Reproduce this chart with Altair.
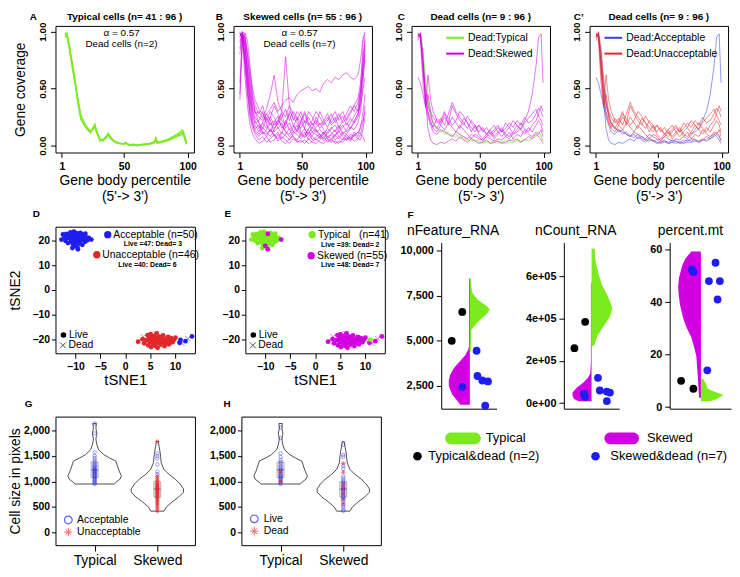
import altair as alt
import pandas as pd

FONT = "Liberation Sans"
GREEN = "#7CEB1E"
MAGENTA = "#D000E0"
BLUE = "#1E1EF0"
RED = "#E0282A"
XSHAPE = "M-1,-1L1,1M-1,1L1,-1"
STAR = "M0,-1L0,1M-1,0L1,0M-0.7,-0.7L0.7,0.7M-0.7,0.7L0.7,-0.7"

# ---------------- Panel A: typical cells, gene-body coverage ----------------
pct_typical = [3.5, 5, 7, 9, 11, 13.5, 16, 18.5, 21, 23.5, 25.5, 27, 28.5, 31, 33.5, 35.5, 37.5, 40,
               42.5, 46, 50, 51, 54, 57.5, 60, 65, 70, 74, 75, 76, 80, 85, 90, 94, 96, 97.5, 99]
typ_1 = [0.98, 0.97, 0.86, 0.72, 0.59, 0.40, 0.25, 0.19, 0.15, 0.13, 0.15, 0.18, 0.12, 0.05, 0.05, 0.07, 0.10, 0.06,
         0.035, 0.02, 0.015, 0.026, 0.006, 0.01, 0.0, 0.01, 0.015, 0.03, 0.063, 0.026, 0.035, 0.05, 0.08, 0.10, 0.12, 0.08, 0.01]
typ_2 = [0.95, 0.99, 0.88, 0.70, 0.57, 0.42, 0.27, 0.20, 0.16, 0.12, 0.14, 0.17, 0.11, 0.06, 0.04, 0.08, 0.09, 0.05,
         0.04, 0.025, 0.012, 0.022, 0.01, 0.008, 0.005, 0.012, 0.02, 0.035, 0.055, 0.03, 0.04, 0.06, 0.09, 0.12, 0.14, 0.10, 0.03]
typ_3 = [0.96, 0.96, 0.84, 0.74, 0.60, 0.38, 0.23, 0.18, 0.14, 0.11, 0.16, 0.16, 0.13, 0.04, 0.06, 0.06, 0.11, 0.07,
         0.03, 0.018, 0.018, 0.03, 0.004, 0.012, 0.002, 0.008, 0.012, 0.025, 0.07, 0.02, 0.03, 0.045, 0.07, 0.09, 0.10, 0.07, 0.02]
typ_4 = [0.97, 0.98, 0.85, 0.71, 0.58, 0.41, 0.26, 0.21, 0.15, 0.13, 0.15, 0.19, 0.12, 0.05, 0.05, 0.07, 0.10, 0.06,
         0.04, 0.02, 0.015, 0.024, 0.008, 0.01, 0.004, 0.01, 0.018, 0.03, 0.06, 0.028, 0.038, 0.055, 0.085, 0.11, 0.13, 0.09, 0.02]
typ_5 = [0.99, 0.97, 0.87, 0.73, 0.60, 0.39, 0.24, 0.19, 0.15, 0.12, 0.15, 0.18, 0.12, 0.05, 0.05, 0.07, 0.10, 0.06,
         0.035, 0.02, 0.014, 0.025, 0.007, 0.01, 0.002, 0.01, 0.016, 0.032, 0.065, 0.027, 0.04, 0.05, 0.075, 0.095, 0.11, 0.075, 0.015]
cov_typical = [typ_1, typ_2, typ_3, typ_4, typ_5]

# ---------------- Panel B: skewed cells ----------------
pct_grid = [1, 3, 5, 7, 9, 11, 13, 16, 19, 22, 25, 28, 31, 34, 37, 40, 43, 46, 49, 52, 55, 58, 61, 64, 67,
            70, 73, 76, 79, 82, 85, 88, 91, 94, 96, 98, 99.5]
skw_1 = [0.45, 0.97, 0.95, 0.80, 0.55, 0.40, 0.30, 0.25, 0.22, 0.28, 0.32, 0.38, 0.30, 0.35, 0.40, 0.42, 0.38, 0.45, 0.48, 0.50,
         0.52, 0.48, 0.50, 0.47, 0.55, 0.58, 0.55, 0.60, 0.58, 0.62, 0.64, 0.60, 0.58, 0.62, 0.75, 0.95, 0.98]
skw_2 = [0.95, 1.00, 0.92, 0.65, 0.40, 0.25, 0.18, 0.12, 0.20, 0.15, 0.25, 0.18, 0.22, 0.28, 0.15, 0.20, 0.12, 0.18, 0.10, 0.15,
         0.08, 0.12, 0.10, 0.06, 0.12, 0.08, 0.10, 0.05, 0.08, 0.12, 0.10, 0.15, 0.20, 0.25, 0.40, 0.70, 0.95]
skw_3 = [0.98, 0.96, 0.75, 0.50, 0.30, 0.20, 0.10, 0.05, 0.08, 0.03, 0.06, 0.10, 0.04, 0.08, 0.05, 0.02, 0.06, 0.04, 0.03, 0.05,
         0.02, 0.04, 0.06, 0.03, 0.02, 0.05, 0.03, 0.04, 0.02, 0.06, 0.05, 0.08, 0.04, 0.06, 0.10, 0.08, 0.03]
skw_4 = [0.90, 0.98, 0.85, 0.70, 0.52, 0.35, 0.28, 0.30, 0.24, 0.32, 0.45, 0.62, 0.38, 0.30, 0.78, 0.35, 0.28, 0.22, 0.30, 0.20,
         0.25, 0.18, 0.22, 0.15, 0.20, 0.25, 0.18, 0.22, 0.28, 0.20, 0.24, 0.30, 0.35, 0.42, 0.55, 0.80, 0.88]
skw_5 = [1.00, 0.95, 0.70, 0.45, 0.25, 0.15, 0.12, 0.08, 0.12, 0.10, 0.15, 0.08, 0.12, 0.06, 0.10, 0.15, 0.08, 0.05, 0.10, 0.07,
         0.12, 0.05, 0.08, 0.10, 0.04, 0.08, 0.06, 0.10, 0.12, 0.08, 0.05, 0.10, 0.08, 0.12, 0.15, 0.30, 0.45]
skw_6 = [0.80, 1.00, 0.98, 0.75, 0.60, 0.45, 0.35, 0.28, 0.35, 0.22, 0.30, 0.25, 0.18, 0.25, 0.32, 0.22, 0.30, 0.25, 0.20, 0.28,
         0.18, 0.22, 0.30, 0.25, 0.18, 0.22, 0.28, 0.20, 0.25, 0.30, 0.22, 0.28, 0.35, 0.30, 0.45, 0.62, 0.75]
skw_7 = [0.98, 0.92, 0.60, 0.35, 0.18, 0.10, 0.06, 0.02, 0.04, 0.08, 0.03, 0.05, 0.10, 0.04, 0.02, 0.06, 0.08, 0.03, 0.05, 0.02,
         0.06, 0.03, 0.02, 0.05, 0.08, 0.03, 0.06, 0.02, 0.04, 0.03, 0.07, 0.04, 0.10, 0.06, 0.05, 0.15, 0.25]
skw_8 = [0.55, 0.98, 0.95, 0.82, 0.65, 0.50, 0.40, 0.32, 0.28, 0.20, 0.25, 0.35, 0.28, 0.22, 0.18, 0.30, 0.25, 0.20, 0.15, 0.22,
         0.18, 0.12, 0.16, 0.20, 0.14, 0.10, 0.15, 0.18, 0.12, 0.16, 0.20, 0.15, 0.22, 0.28, 0.35, 0.50, 0.60]
skw_9 = [0.96, 0.99, 0.80, 0.55, 0.35, 0.22, 0.15, 0.18, 0.10, 0.14, 0.20, 0.12, 0.16, 0.10, 0.22, 0.14, 0.18, 0.12, 0.20, 0.15,
         0.10, 0.16, 0.12, 0.14, 0.10, 0.15, 0.12, 0.08, 0.14, 0.18, 0.12, 0.16, 0.14, 0.20, 0.30, 0.55, 0.85]
skw_10 = [0.92, 0.97, 0.90, 0.60, 0.45, 0.30, 0.25, 0.20, 0.15, 0.25, 0.18, 0.22, 0.15, 0.20, 0.12, 0.10, 0.16, 0.25, 0.12, 0.08,
          0.15, 0.20, 0.14, 0.10, 0.06, 0.12, 0.16, 0.12, 0.18, 0.10, 0.14, 0.20, 0.26, 0.32, 0.50, 0.90, 1.00]
skw_11 = [0.99, 0.94, 0.72, 0.48, 0.28, 0.18, 0.14, 0.10, 0.16, 0.12, 0.08, 0.14, 0.22, 0.18, 0.12, 0.08, 0.12, 0.10, 0.06, 0.10,
          0.14, 0.08, 0.05, 0.08, 0.12, 0.06, 0.10, 0.14, 0.08, 0.05, 0.10, 0.06, 0.12, 0.08, 0.18, 0.22, 0.30]
skw_12 = [0.85, 0.99, 0.88, 0.66, 0.48, 0.32, 0.22, 0.15, 0.20, 0.28, 0.22, 0.15, 0.20, 0.30, 0.25, 0.35, 0.22, 0.30, 0.25, 0.15,
          0.30, 0.25, 0.18, 0.30, 0.22, 0.28, 0.20, 0.25, 0.15, 0.22, 0.28, 0.35, 0.30, 0.38, 0.48, 0.68, 0.80]
skw_13 = [0.40, 0.90, 0.99, 0.92, 0.70, 0.42, 0.30, 0.20, 0.12, 0.08, 0.14, 0.10, 0.06, 0.12, 0.09, 0.05, 0.10, 0.14, 0.08, 0.12,
          0.05, 0.09, 0.14, 0.07, 0.10, 0.06, 0.04, 0.09, 0.06, 0.10, 0.08, 0.05, 0.09, 0.12, 0.10, 0.20, 0.35]
skw_14 = [0.97, 0.99, 0.78, 0.58, 0.40, 0.28, 0.20, 0.22, 0.30, 0.18, 0.12, 0.20, 0.26, 0.15, 0.20, 0.28, 0.18, 0.14, 0.22, 0.30,
          0.20, 0.15, 0.25, 0.18, 0.22, 0.16, 0.24, 0.30, 0.22, 0.26, 0.18, 0.24, 0.20, 0.28, 0.40, 0.72, 0.92]
cov_skewed = [skw_1, skw_2, skw_3, skw_4, skw_5, skw_6, skw_7, skw_8, skw_9, skw_10, skw_11, skw_12, skw_13, skw_14]

# ---------------- Panels C and C': dead cells ----------------
dead_1 = [0.98, 0.97, 0.80, 0.55, 0.38, 0.25, 0.20, 0.16, 0.12, 0.14, 0.10, 0.08, 0.10, 0.06, 0.08, 0.05, 0.04, 0.05, 0.03, 0.02,
          0.03, 0.02, 0.03, 0.02, 0.03, 0.02, 0.03, 0.03, 0.04, 0.03, 0.05, 0.04, 0.06, 0.08, 0.10, 0.08, 0.05]
dead_2 = [0.95, 1.00, 0.85, 0.60, 0.40, 0.28, 0.18, 0.15, 0.14, 0.10, 0.12, 0.09, 0.07, 0.10, 0.06, 0.05, 0.07, 0.04, 0.05, 0.03,
          0.04, 0.03, 0.05, 0.04, 0.03, 0.05, 0.04, 0.06, 0.05, 0.04, 0.06, 0.05, 0.08, 0.10, 0.12, 0.09, 0.04]
dead_3 = [0.60, 0.55, 0.45, 0.35, 0.25, 0.18, 0.12, 0.10, 0.14, 0.12, 0.10, 0.08, 0.12, 0.10, 0.08, 0.06, 0.10, 0.08, 0.06, 0.05,
          0.08, 0.06, 0.04, 0.06, 0.05, 0.08, 0.06, 0.10, 0.12, 0.15, 0.22, 0.30, 0.45, 0.70, 0.95, 0.98, 0.55]
dead_4 = [0.95, 0.98, 0.70, 0.40, 0.15, 0.05, 0.02, 0.01, 0.03, 0.02, 0.04, 0.06, 0.04, 0.08, 0.05, 0.03, 0.06, 0.04, 0.02, 0.03,
          0.05, 0.02, 0.03, 0.04, 0.02, 0.03, 0.05, 0.04, 0.06, 0.03, 0.05, 0.08, 0.06, 0.10, 0.08, 0.05, 0.02]
dead_5 = [0.98, 0.95, 0.55, 0.35, 0.62, 0.40, 0.30, 0.22, 0.18, 0.25, 0.20, 0.35, 0.28, 0.22, 0.18, 0.26, 0.20, 0.15, 0.18, 0.12,
          0.16, 0.10, 0.14, 0.18, 0.12, 0.15, 0.20, 0.16, 0.22, 0.18, 0.25, 0.20, 0.22, 0.28, 0.33, 0.30, 0.25]
dead_6 = [0.92, 0.99, 0.80, 0.33, 0.45, 0.30, 0.25, 0.20, 0.24, 0.18, 0.28, 0.38, 0.30, 0.25, 0.20, 0.15, 0.22, 0.18, 0.12, 0.16,
          0.10, 0.14, 0.18, 0.12, 0.08, 0.12, 0.16, 0.10, 0.14, 0.20, 0.15, 0.12, 0.18, 0.22, 0.28, 0.35, 0.30]
dead_7 = [0.96, 0.97, 0.75, 0.50, 0.35, 0.28, 0.20, 0.15, 0.22, 0.30, 0.18, 0.25, 0.20, 0.15, 0.24, 0.20, 0.12, 0.18, 0.10, 0.06,
          0.10, 0.14, 0.08, 0.12, 0.16, 0.10, 0.08, 0.12, 0.18, 0.14, 0.10, 0.16, 0.12, 0.18, 0.22, 0.18, 0.12]
dead_8 = [0.99, 0.93, 0.65, 0.45, 0.30, 0.22, 0.15, 0.12, 0.18, 0.14, 0.20, 0.16, 0.12, 0.18, 0.14, 0.10, 0.06, 0.10, 0.08, 0.04,
          0.08, 0.12, 0.06, 0.10, 0.14, 0.08, 0.12, 0.06, 0.10, 0.08, 0.14, 0.10, 0.08, 0.12, 0.10, 0.14, 0.08]
dead_9 = [0.97, 0.98, 0.70, 0.42, 0.28, 0.20, 0.16, 0.24, 0.20, 0.28, 0.24, 0.18, 0.22, 0.30, 0.26, 0.20, 0.16, 0.12, 0.18, 0.14,
          0.10, 0.08, 0.12, 0.16, 0.12, 0.20, 0.16, 0.22, 0.18, 0.14, 0.20, 0.24, 0.28, 0.32, 0.26, 0.22, 0.18]
cov_dead = [dead_1, dead_2, dead_3, dead_4, dead_5, dead_6, dead_7, dead_8, dead_9]
dead_type = ["Dead:Typical", "Dead:Typical", "Dead:Skewed", "Dead:Skewed", "Dead:Skewed",
             "Dead:Skewed", "Dead:Skewed", "Dead:Skewed", "Dead:Skewed"]
dead_quality = ["Dead:Acceptable", "Dead:Unacceptable", "Dead:Acceptable", "Dead:Acceptable", "Dead:Unacceptable",
                "Dead:Unacceptable", "Dead:Unacceptable", "Dead:Unacceptable", "Dead:Unacceptable"]

# ---------------- Panels D and E: tSNE ----------------
top_x = [-12.8, -12.2, -12.0, -11.8, -11.6, -11.5, -11.3, -11.1, -11.0, -10.9, -10.8, -10.7, -10.6, -10.5, -10.4,
         -10.3, -10.2, -10.1, -9.9, -9.8, -9.7, -9.6, -9.4, -9.3, -9.2, -9.1, -9.0, -8.9, -8.8, -8.7, -8.6, -8.5,
         -8.3, -8.1, -8.0, -7.8, -7.6, -7.3, -9.6, -10.6, -11.9, -12.5]
top_y = [20.3, 21.5, 19.8, 22.6, 20.8, 18.9, 22.0, 21.0, 23.2, 19.5, 20.2, 22.5, 21.4, 18.5, 20.7, 23.5, 19.8, 21.8,
         20.9, 22.9, 19.2, 21.6, 20.3, 22.2, 18.7, 21.1, 23.0, 19.9, 20.8, 22.4, 18.2, 21.7, 20.5, 19.4, 22.7, 21.2,
         20.0, 21.0, 17.2, 16.9, 21.0, 22.4]
top_skewed_x = [-9.5, -10.0, -9.5, -6.8]
top_skewed_y = [22.6, 17.8, 16.4, 20.3]
top_dead_x = [-10.4]
top_dead_y = [21.2]
bot_x = [2.6, 3.5, 3.8, 4.2, 4.5, 4.6, 4.8, 5.0, 5.1, 5.2, 5.4, 5.5, 5.6, 5.8, 5.9, 6.0, 6.1, 6.2, 6.3, 6.4, 6.5,
         6.6, 6.8, 6.9, 7.0, 7.1, 7.3, 7.4, 7.6, 7.7, 7.9, 8.0, 8.2, 8.4, 8.6, 8.8, 9.0, 9.2, 9.5, 9.8, 10.1, 5.3]
bot_y = [-20.8, -19.8, -21.5, -20.2, -18.2, -22.3, -19.5, -21.0, -17.8, -23.0, -20.5, -19.0, -21.8, -18.5, -20.0,
         -22.5, -19.8, -21.2, -17.5, -20.6, -23.3, -19.2, -21.5, -18.8, -20.3, -22.0, -19.6, -21.0, -18.3, -20.8,
         -22.6, -19.9, -21.4, -20.2, -18.9, -21.9, -20.5, -19.4, -21.0, -20.0, -19.2, -20.9]
bot_dead_x = [3.6, 6.2, 4.3, 8.5, 5.7, 7.0]
bot_dead_y = [-18.8, -17.6, -21.0, -19.5, -20.1, -22.4]
edge_x = [12.1, 13.4, 10.9]
edge_y = [-20.6, -18.7, -21.2]
edge_typical_x = [11.1]
edge_typical_y = [-20.1]
edge_dead_x = [12.6, 11.4]
edge_dead_y = [-19.6, -21.5]
cell_groups = [
    ("Acceptable", "Typical", "Live", top_x, top_y),
    ("Acceptable", "Skewed", "Live", top_skewed_x, top_skewed_y),
    ("Acceptable", "Typical", "Dead", top_dead_x, top_dead_y),
    ("Unacceptable", "Skewed", "Live", bot_x, bot_y),
    ("Unacceptable", "Skewed", "Dead", bot_dead_x, bot_dead_y),
    ("Acceptable", "Skewed", "Live", edge_x, edge_y),
    ("Acceptable", "Typical", "Live", edge_typical_x, edge_typical_y),
    ("Acceptable", "Skewed", "Dead", edge_dead_x, edge_dead_y),
]

# ---------------- Panel F: split violins ----------------
nfeat_skw_v = [1450, 1700, 2050, 2500, 2800, 3130, 3500, 3850, 4200, 4500, 4700, 8450]
nfeat_skw_w = [0.45, 0.62, 0.85, 1.0, 1.0, 0.93, 0.75, 0.48, 0.22, 0.08, 0.04, 0.04]
nfeat_typ_v = [4400, 5600, 5750, 5930, 6200, 6480, 6750, 6930, 7290, 7650, 8000, 8470]
nfeat_typ_w = [0.04, 0.06, 0.18, 0.29, 0.52, 0.8, 0.95, 0.8, 0.36, 0.13, 0.06, 0.04]
nfeat_dead_typ_x = [-0.86, -0.36]
nfeat_dead_typ_v = [5000, 6600]
nfeat_dead_skw_x = [-0.36, 0.32, 0.36, 0.59, 0.86, 0.73]
nfeat_dead_skw_v = [2450, 4450, 3050, 2800, 2750, 1400]

ncount_skw_v = [9000, 20000, 35000, 50000, 73000, 96000, 119000, 142000, 200000, 570000]
ncount_skw_w = [0.62, 0.85, 0.92, 0.92, 0.72, 0.42, 0.18, 0.06, 0.03, 0.03]
ncount_typ_v = [272000, 318000, 363000, 409000, 447000, 470000, 516000, 562000, 608000, 669000, 730000]
ncount_typ_w = [0.12, 0.28, 0.58, 0.89, 1.0, 0.94, 0.74, 0.5, 0.35, 0.2, 0.15]
ncount_dead_typ_x = [-0.83, -0.31]
ncount_dead_typ_v = [260000, 385000]
ncount_dead_skw_x = [0.31, 0.40, 0.74, 0.89, 0.74, -0.37, -0.31]
ncount_dead_skw_v = [120000, 60000, 55000, 50000, 10000, 45000, 30000]

pmt_skw_v = [3.6, 6.0, 10.8, 15.7, 19.3, 22.9, 26.5, 30.1, 33.7, 38.6, 42.2, 45.8, 49.4, 54.2, 56.6, 59.3]
pmt_skw_w = [0.08, 0.1, 0.13, 0.17, 0.2, 0.3, 0.42, 0.62, 0.77, 0.91, 0.97, 1.0, 0.96, 0.81, 0.68, 0.42]
pmt_typ_v = [2.2, 3.0, 4.6, 6.0, 7.2, 9.0, 10.8]
pmt_typ_w = [0.41, 0.67, 0.99, 0.54, 0.28, 0.22, 0.09]
pmt_dead_typ_x = [-0.87, -0.33]
pmt_dead_typ_v = [10, 7]
pmt_dead_skw_x = [-0.40, -0.33, 0.64, 0.35, 0.83, 0.73, 0.28]
pmt_dead_skw_v = [52.5, 51.5, 55, 48, 48, 41, 14]

# ---------------- Panels G and H: cell size violins ----------------
size_typ_v = [949, 981, 1045, 1110, 1206, 1302, 1398, 1462, 1525, 1622, 1718, 1800, 1846, 1900, 1942, 1990, 2038, 2135]
size_typ_w = [20, 21.7, 26, 27.3, 25, 23.3, 21.7, 15, 9.3, 4, 2.3, 1.5, 1.3, 2.0, 2.3, 1.8, 1.3, 1.7]
size_skw_v = [417, 500, 596, 692, 788, 852, 949, 1045, 1141, 1237, 1365, 1494, 1590, 1686, 1782]
size_skw_w = [6.7, 9.3, 15, 21.7, 26.7, 26.7, 23.3, 18.3, 11.7, 6.7, 4, 3.3, 2.7, 1.7, 1]
box_q1 = [1077, 692]
box_median = [1225, 850]
box_q3 = [1378, 994]
g_typ_acceptable = [2135, 1942, 1570, 1500, 1460, 1420, 1380, 1350, 1320, 1300, 1280, 1260, 1240, 1225, 1210, 1195,
                    1180, 1165, 1150, 1135, 1120, 1100, 1085, 1070, 1050, 1030, 1010, 990, 970, 950]
g_skw_acceptable = [1550, 1494, 1450, 1333, 1190, 1140]
g_skw_unacceptable = [1782, 1100, 1060, 1020, 990, 960, 940, 920, 900, 880, 860, 850, 840, 820, 800, 780, 760, 740,
                      720, 700, 680, 660, 630, 600, 570, 540, 500, 460, 417]
h_typ_live = [2060, 1850, 1550, 1480, 1420, 1380, 1340, 1300, 1270, 1240, 1220, 1200, 1160, 1140, 1120, 1100, 1080,
              1060, 1040, 1020, 990, 970, 950]
h_typ_dead = [1180, 1000]
h_skw_live = [1720, 1520, 1480, 1300, 1250, 1100, 1060, 1020, 990, 960, 930, 900, 880, 860, 840, 820, 800, 780, 740,
              720, 700, 680, 640, 600, 540, 500, 450, 420]
h_skw_dead = [1350, 1180, 950, 860, 760, 650, 560]


# ============================ helpers ============================
def lines_df(xs, lines, cats=None):
    rows = []
    for i, ys in enumerate(lines):
        for x, y in zip(xs, ys):
            r = {"cell": i, "pct": x, "cov": y}
            if cats:
                for k, v in cats.items():
                    r[k] = v[i]
            rows.append(r)
    return pd.DataFrame(rows)


def label(txt, x, y, size, weight="bold", align="left"):
    return alt.Chart(pd.DataFrame({"t": [txt]})).mark_text(
        align=align, baseline="middle", fontSize=size, fontWeight=weight, font=FONT, color="black"
    ).encode(text="t:N", x=alt.value(x), y=alt.value(y))


# ============================ row 1 ============================
PW1, PH1 = 140, 128
PCT_SCALE = alt.Scale(domain=[-4, 105], nice=False, zero=False)
COV_SCALE = alt.Scale(domain=[-0.06, 1.05], nice=False, zero=False)
AX_PCT = alt.Axis(values=[1, 50, 100], title=["Gene body percentile", "(5'-> 3')"], titleFontSize=14,
                  titleLineHeight=16, labelFontSize=10.5, labelPadding=4, titlePadding=2, tickSize=5,
                  domain=False, labelFlush=False)


def ax_cov(title):
    kw = dict(values=[0, 0.5, 1], format=".2f", labelAngle=-90, labelAlign="center", labelBaseline="bottom",
              labelFontSize=10, labelPadding=3, tickSize=5, domain=False, minExtent=18, maxExtent=18)
    if title:
        return alt.Axis(title=title, titleFontSize=14, titlePadding=10, **kw)
    return alt.Axis(title=None, **kw)


def alpha_note(n_dead, ax_y):
    d = pd.DataFrame({"pct": [48, 48], "cov": [0.985, 0.89], "t": ["α = 0.57", f"Dead cells (n={n_dead})"]})
    return alt.Chart(d).mark_text(fontSize=10, font=FONT, color="black").encode(
        x=alt.X("pct:Q", scale=PCT_SCALE, axis=AX_PCT), y=alt.Y("cov:Q", scale=COV_SCALE, axis=ax_y), text="t:N")


def cov_panel(layers, letter, letter_dx, title):
    return alt.layer(*layers, label(letter, letter_dx, -9, 10),
                     label(title, PW1 / 2, -9, 10, align="center")).properties(width=PW1, height=PH1)


ay = ax_cov("Gene coverage")
A_lines = alt.Chart(lines_df(pct_typical, cov_typical)).mark_line(color=GREEN, strokeWidth=1.4, opacity=0.75).encode(
    x=alt.X("pct:Q", scale=PCT_SCALE, axis=AX_PCT), y=alt.Y("cov:Q", scale=COV_SCALE, axis=ay), detail="cell:N")
A = cov_panel([A_lines, alpha_note(2, ay)], "A", -26, "Typical cells (n= 41 : 96 )")

by = ax_cov(None)
B_lines = alt.Chart(lines_df(pct_grid, cov_skewed)).mark_line(color=MAGENTA, strokeWidth=0.9, opacity=0.6).encode(
    x=alt.X("pct:Q", scale=PCT_SCALE, axis=AX_PCT), y=alt.Y("cov:Q", scale=COV_SCALE, axis=by), detail="cell:N")
B = cov_panel([B_lines, alpha_note(7, by)], "B", -18, "Skewed cells (n= 55 : 96 )")

dead_df = lines_df(pct_grid, cov_dead, {"grp": dead_type, "qual": dead_quality})


def dead_lines(field, domain, rng, lx):
    return alt.Chart(dead_df).mark_line(strokeWidth=0.9, opacity=0.6).encode(
        x=alt.X("pct:Q", scale=PCT_SCALE, axis=AX_PCT), y=alt.Y("cov:Q", scale=COV_SCALE, axis=by),
        detail="cell:N",
        color=alt.Color(f"{field}:N", scale=alt.Scale(domain=domain, range=rng),
                        legend=alt.Legend(orient="none", legendX=lx, legendY=2, title=None, symbolType="stroke",
                                          symbolStrokeWidth=2, symbolSize=320, symbolOpacity=1, labelFontSize=10.5,
                                          labelFont=FONT, rowPadding=0, labelOffset=3)))


C = cov_panel([dead_lines("grp", ["Dead:Typical", "Dead:Skewed"], [GREEN, MAGENTA], 34)],
              "C", -14, "Dead cells (n= 9 : 96 )")
Cp = cov_panel([dead_lines("qual", ["Dead:Acceptable", "Dead:Unacceptable"], ["#3A3AF5", RED], 14)],
               "C\u2019", -16, "Dead cells (n= 9 : 96 )")

row1 = alt.hconcat(A, B, C, Cp, spacing=18).resolve_scale(color="independent")

# ============================ D, E ============================
rows = []
for qual, typ, status, xs, ys in cell_groups:
    for x, y in zip(xs, ys):
        rows.append({"tx": x, "ty": y, "quality": qual, "ctype": typ, "status": status})
cells = pd.DataFrame(rows)

PW2, PH2 = 141, 128
TX = alt.Scale(domain=[-14, 14], nice=False, zero=False)
TY = alt.Scale(domain=[-25.5, 25.5], nice=False, zero=False)
AX_TX = alt.Axis(values=[-10, -5, 0, 5, 10], title="tSNE1", titleFontSize=15, labelFontSize=10.5, labelPadding=3,
                 titlePadding=1, tickSize=5, domain=False)


def ax_ty(title):
    kw = dict(values=[-20, -10, 0, 10, 20], labelFontSize=10.5, labelPadding=2, tickSize=4, domain=False,
              minExtent=32, maxExtent=32)
    if title:
        return alt.Axis(title=title, titleFontSize=14, titlePadding=1, **kw)
    return alt.Axis(title=None, **kw)


def tsne_panel(field, domain, rng, letter, letter_dx, ytitle, dot_x, dot_y, main_x, main_txt, sub_x, sub_y, sub_txt):
    axy = ax_ty(ytitle)
    ex = lambda: alt.X("tx:Q", scale=TX, axis=AX_TX)
    ey = lambda: alt.Y("ty:Q", scale=TY, axis=axy)
    col = alt.Color(f"{field}:N", scale=alt.Scale(domain=domain, range=rng), legend=None)
    live = alt.Chart(cells[cells.status == "Live"]).mark_circle(size=24, opacity=1).encode(x=ex(), y=ey(), color=col)
    dead = alt.Chart(cells[cells.status == "Dead"]).mark_point(shape=XSHAPE, filled=False, size=30, strokeWidth=1,
                                                               opacity=0.55).encode(x=ex(), y=ey(), color=col)
    keys = alt.Chart(pd.DataFrame({"tx": dot_x, "ty": dot_y, field: domain})).mark_circle(size=55, opacity=1).encode(
        x=ex(), y=ey(), color=col)
    main = alt.Chart(pd.DataFrame({"tx": main_x, "ty": dot_y, "t": main_txt})).mark_text(
        align="left", baseline="middle", fontSize=10.5, font=FONT, color="black").encode(x=ex(), y=ey(), text="t:N")
    sub = alt.Chart(pd.DataFrame({"tx": sub_x, "ty": sub_y, "t": sub_txt})).mark_text(
        align="left", baseline="middle", fontSize=7, fontWeight="bold", font=FONT, color="black").encode(
        x=ex(), y=ey(), text="t:N")
    ld_dot = alt.Chart(pd.DataFrame({"tx": [-12.4], "ty": [-18.1]})).mark_circle(size=32, color="black", opacity=1).encode(
        x=ex(), y=ey())
    ld_x = alt.Chart(pd.DataFrame({"tx": [-12.5], "ty": [-22.3]})).mark_point(
        shape=XSHAPE, filled=False, size=36, strokeWidth=1, color="black").encode(x=ex(), y=ey())
    ld_txt = alt.Chart(pd.DataFrame({"tx": [-11.3, -11.4], "ty": [-18.1, -22.3], "t": ["Live", "Dead"]})).mark_text(
        align="left", baseline="middle", fontSize=10.5, font=FONT, color="black").encode(x=ex(), y=ey(), text="t:N")
    return alt.layer(live, dead, keys, main, sub, ld_dot, ld_x, ld_txt,
                     label(letter, letter_dx, -13, 10)).properties(width=PW2, height=PH2)


D = tsne_panel("quality", ["Acceptable", "Unacceptable"], [BLUE, RED], "D", -23, "tSNE2",
               [-3.5, -5.7], [22.3, 14.2], [-2.4, -4.6], ["Acceptable (n=50)", "Unacceptable (n=46)"],
               [-0.3, -1.4], [18.6, 10.1], ["Live =47: Dead= 3", "Live =40: Dead= 6"])
E = tsne_panel("ctype", ["Typical", "Skewed"], [GREEN, MAGENTA], "E", -21, None,
               [-0.6, -0.8], [22.3, 13.8], [0.6, 0.4],
               ["Typical\u00a0\u00a0\u00a0(n=41)", "Skewed\u00a0(n=55)"],
               [1.2, 1.2], [18.3, 10.1], ["Live =39: Dead= 2", "Live =48: Dead= 7"])

# ============================ G, H ============================
PW3, PH3 = 141, 130
VX = alt.Scale(domain=[0.375, 2.6], nice=False, zero=False)
VY = alt.Scale(domain=[-250, 2270], nice=False, zero=False)
PX_PER_UNIT = 64.0
AX_VX = alt.Axis(values=[1, 2], labelExpr="datum.value == 1 ? 'Typical' : 'Skewed'", labelFontSize=14,
                 labelFontWeight="normal", labelPadding=3, tickSize=6, domain=False, title=None)


def ax_vy(title):
    kw = dict(values=[0, 500, 1000, 1500, 2000], format=",.0f", labelFontSize=10.5, labelPadding=2, tickSize=4,
              domain=False, minExtent=32, maxExtent=32)
    if title:
        return alt.Axis(title=title, titleFontSize=14, titlePadding=1, **kw)
    return alt.Axis(title=None, **kw)


vio_rows = []
for cat, c, vs, ws in [("Typical", 1, size_typ_v, size_typ_w), ("Skewed", 2, size_skw_v, size_skw_w)]:
    for v, w in zip(vs, ws):
        vio_rows.append({"cat": cat, "v": v, "lo": c - w / PX_PER_UNIT, "hi": c + w / PX_PER_UNIT})
vio_df = pd.DataFrame(vio_rows)
box_df = pd.DataFrame({"cat": ["Typical", "Skewed"], "c": [1, 2], "q1": box_q1, "med": box_median, "q3": box_q3})


def pts(c, values):
    return [{"c": c, "v": v} for v in values]


def size_panel(letter, letter_dx, ytitle, circ_rows, star_rows, circ_label, star_label, key_x, text_x, key_v):
    axy = ax_vy(ytitle)
    ey = lambda f: alt.Y(f, scale=VY, axis=axy)
    ex = lambda f: alt.X(f, scale=VX, axis=AX_VX)
    vio = alt.Chart(vio_df).mark_area(orient="horizontal", fill="white", stroke="#222", strokeWidth=0.8).encode(
        y=ey("v:Q"), x=ex("lo:Q"), x2="hi:Q", detail="cat:N")
    box = alt.Chart(box_df).transform_calculate(lo="datum.c - 0.055", hi="datum.c + 0.055").mark_rect(
        fill="#dddddd", fillOpacity=0.5, stroke="#999999", strokeWidth=0.8).encode(
        x=ex("lo:Q"), x2="hi:Q", y=ey("q1:Q"), y2="q3:Q")
    med = alt.Chart(box_df).transform_calculate(lo="datum.c - 0.055", hi="datum.c + 0.055").mark_rule(
        color="#777777", strokeWidth=1).encode(x=ex("lo:Q"), x2="hi:Q", y=ey("med:Q"))
    circ = alt.Chart(pd.DataFrame(circ_rows)).mark_point(shape="circle", filled=False, size=12, color=BLUE,
                                                         opacity=0.55, strokeWidth=0.8).encode(x=ex("c:Q"), y=ey("v:Q"))
    star = alt.Chart(pd.DataFrame(star_rows)).mark_point(shape=STAR, filled=False, size=20, color=RED,
                                                         opacity=0.75, strokeWidth=0.8).encode(x=ex("c:Q"), y=ey("v:Q"))
    kc = alt.Chart(pd.DataFrame({"c": [key_x], "v": [key_v[0]]})).mark_point(
        shape="circle", filled=False, size=60, color=BLUE, strokeWidth=1.2).encode(x=ex("c:Q"), y=ey("v:Q"))
    ks = alt.Chart(pd.DataFrame({"c": [key_x], "v": [key_v[1]]})).mark_point(
        shape=STAR, filled=False, size=70, color=RED, strokeWidth=1).encode(x=ex("c:Q"), y=ey("v:Q"))
    kt = alt.Chart(pd.DataFrame({"c": [text_x, text_x], "v": key_v, "t": [circ_label, star_label]})).mark_text(
        align="left", baseline="middle", fontSize=10.5, font=FONT, color="black").encode(
        x=ex("c:Q"), y=ey("v:Q"), text="t:N")
    return alt.layer(vio, box, med, circ, star, kc, ks, kt, label(letter, letter_dx, -13, 10)).properties(
        width=PW3, height=PH3)


G = size_panel("G", -31, "Cell size in pixels",
               pts(1, g_typ_acceptable) + pts(2, g_skw_acceptable), pts(2, g_skw_unacceptable),
               "Acceptable", "Unacceptable", 0.58, 0.72, [244, 6])
H = size_panel("H", -18, None,
               pts(1, h_typ_live) + pts(2, h_skw_live), pts(1, h_typ_dead) + pts(2, h_skw_dead),
               "Live", "Dead", 0.58, 0.73, [267, 25])

# ============================ F ============================
FH = 168
F_W = [56, 56, 62]
F_EXT = [42, 38, 22]
F_SP = 27
f2_off = F_W[0] + F_SP + F_EXT[1]
f3_off = f2_off + F_W[1] + F_SP + F_EXT[2]


def split_panel(width, ext, xdom, ydom, yvals, lv, lw, rv, rw, bx, bv, ux, uv, fmt=None, lexpr=None):
    xs = alt.Scale(domain=xdom, nice=False, zero=False)
    ys = alt.Scale(domain=ydom, nice=False, zero=False)
    axx = alt.Axis(labels=False, ticks=False, title=None, domain=True)
    kw = dict(values=yvals, title=None, labelFontSize=11, labelPadding=3, tickSize=5, domain=True,
              minExtent=ext, maxExtent=ext)
    if fmt:
        kw["format"] = fmt
    if lexpr:
        kw["labelExpr"] = lexpr
    axy = alt.Axis(**kw)
    ex = lambda: alt.X("w:Q", scale=xs, axis=axx)
    ey = lambda: alt.Y("v:Q", scale=ys, axis=axy)
    left = alt.Chart(pd.DataFrame({"v": lv, "w": [-w for w in lw]})).mark_area(
        orient="horizontal", color=MAGENTA, opacity=1).encode(x=ex(), x2=alt.datum(0), y=ey())
    right = alt.Chart(pd.DataFrame({"v": rv, "w": rw})).mark_area(
        orient="horizontal", color=GREEN, opacity=1).encode(x=ex(), x2=alt.datum(0), y=ey())
    blk = alt.Chart(pd.DataFrame({"w": bx, "v": bv})).mark_circle(size=62, color="black", opacity=1).encode(
        x=ex(), y=ey())
    blu = alt.Chart(pd.DataFrame({"w": ux, "v": uv})).mark_circle(size=62, color=BLUE, opacity=1).encode(
        x=ex(), y=ey())
    return alt.layer(left, right, blk, blu).properties(width=width, height=FH,
                                                       view=alt.ViewBackground(stroke="transparent"))


F1 = split_panel(F_W[0], F_EXT[0], [-1.36, 1.27], [1236, 10452], [2500, 5000, 7500, 10000],
                 nfeat_skw_v, nfeat_skw_w, nfeat_typ_v, nfeat_typ_w, nfeat_dead_typ_x, nfeat_dead_typ_v,
                 nfeat_dead_skw_x, nfeat_dead_skw_v, fmt=",.0f")
F2 = split_panel(F_W[1], F_EXT[1], [-1.34, 1.34], [-26000, 760000], [0, 200000, 400000, 600000],
                 ncount_skw_v, ncount_skw_w, ncount_typ_v, ncount_typ_w, ncount_dead_typ_x, ncount_dead_typ_v,
                 ncount_dead_skw_x, ncount_dead_skw_v,
                 lexpr="datum.value == 0 ? '0e+00' : format(datum.value / 100000, 'd') + 'e+05'")
F3 = split_panel(F_W[2], F_EXT[2], [-1.37, 1.32], [-0.6, 62.7], [0, 20, 40, 60],
                 pmt_skw_v, pmt_skw_w, pmt_typ_v, pmt_typ_w, pmt_dead_typ_x, pmt_dead_typ_v,
                 pmt_dead_skw_x, pmt_dead_skw_v, fmt="d")

# header strip for the F panels (letter + facet titles)
F_head = alt.layer(
    label("F", -34, -12, 10),
    label("nFeature_RNA", 12, 4, 14, weight="normal", align="center"),
    label("nCount_RNA", f2_off + 15, 4, 14, weight="normal", align="center"),
    label("percent.mt", f3_off + 26, 4, 14, weight="normal", align="center"),
).properties(width=200, height=14, view=alt.ViewBackground(stroke="transparent"))

# F legend
LW, LH = 290, 48
LX = alt.Scale(domain=[0, LW], nice=False, zero=False)
LY = alt.Scale(domain=[0, LH], nice=False, zero=False)
leg_labels = ["Typical", "Skewed", "Typical&dead (n=2)", "Skewed&dead (n=7)"]
leg_rect = alt.Chart(pd.DataFrame({"x1": [4, 165], "x2": [40, 200], "y1": [17, 17], "y2": [29, 29],
                                   "col": [GREEN, MAGENTA]})).mark_rect(cornerRadius=6).encode(
    x=alt.X("x1:Q", scale=LX, axis=None), x2="x2:Q", y=alt.Y("y1:Q", scale=LY, axis=None), y2="y2:Q",
    color=alt.Color("col:N", scale=None))
leg_dot = alt.Chart(pd.DataFrame({"x1": [-24, 156], "y1": [5, 5], "col": ["black", BLUE]})).mark_circle(
    size=75, opacity=1).encode(x=alt.X("x1:Q", scale=LX, axis=None), y=alt.Y("y1:Q", scale=LY, axis=None),
                               color=alt.Color("col:N", scale=None))
leg_txt = alt.Chart(pd.DataFrame({"x1": [45, 208, -13, 171], "y1": [23, 23, 5, 5], "t": leg_labels})).mark_text(
    align="left", baseline="middle", fontSize=13, font=FONT, color="black").encode(
    x=alt.X("x1:Q", scale=LX, axis=None), y=alt.Y("y1:Q", scale=LY, axis=None), text="t:N")
F_legend = alt.layer(leg_rect, leg_dot, leg_txt).properties(width=LW, height=LH,
                                                            view=alt.ViewBackground(stroke="transparent"))

# ============================ assemble ============================
DE = alt.hconcat(D, E, spacing=13).resolve_scale(color="independent")
GH = alt.hconcat(G, H, spacing=13)
left_col = alt.vconcat(DE, GH, spacing=10).resolve_scale(color="independent")
F_row = alt.hconcat(F1, F2, F3, spacing=F_SP)
right_col = alt.vconcat(F_head, F_row, F_legend, spacing=0).resolve_scale(color="independent")
row23 = alt.hconcat(left_col, right_col, spacing=8).resolve_scale(color="independent")

chart = alt.vconcat(row1, row23, spacing=4).resolve_scale(color="independent").properties(padding=0)
chart = chart.configure(font=FONT).configure_view(stroke="black", strokeWidth=1).configure_axis(
    grid=False, labelFont=FONT, titleFont=FONT, labelColor="black", titleColor="black", tickColor="black",
    domainColor="black", titleFontWeight="normal", labelFontWeight="bold").configure_text(font=FONT)

chart.save("out.html", embed_options={"renderer": "svg", "actions": False})
